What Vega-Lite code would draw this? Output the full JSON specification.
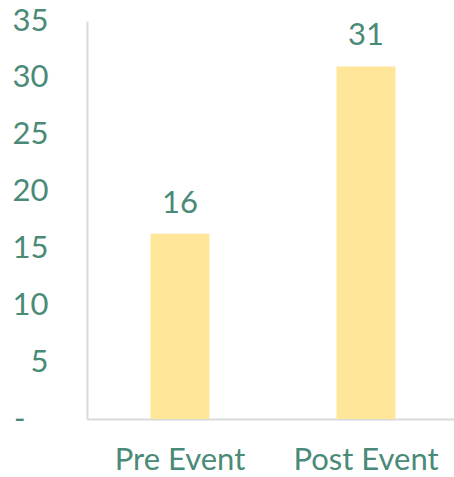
{
  "$schema": "https://vega.github.io/schema/vega-lite/v6.json",
  "width": 372,
  "height": 398,
  "autosize": "none",
  "padding": {"left": 87, "top": 21, "right": 0, "bottom": 58},
  "background": "white",
  "config": {
    "view": {"stroke": null},
    "font": "Lato",
    "axis": {"grid": false, "ticks": false, "domainColor": "#D9D9D9", "domainWidth": 2, "labelColor": "#4A8A78", "labelFont": "Lato", "labelFontSize": 31, "title": null}
  },
  "data": {"values": [
    {"period": "Pre Event", "count": 16.3},
    {"period": "Post Event", "count": 31}
  ]},
  "encoding": {
    "x": {"field": "period", "type": "nominal", "sort": null,
      "scale": {"paddingInner": 0, "paddingOuter": 0},
      "axis": {"labelAngle": 0, "labelPadding": 26}},
    "y": {"field": "count", "type": "quantitative",
      "scale": {"domain": [0, 35], "nice": false},
      "axis": {"values": [0, 5, 10, 15, 20, 25, 30, 35],
        "labelPadding": 39,
        "labelExpr": "datum.value == 0 ? '-\u2800' : datum.label"}}
  },
  "layer": [
    {"mark": {"type": "bar", "color": "#FFE699", "size": 59}},
    {"mark": {"type": "text", "dy": -21, "baseline": "alphabetic", "fontSize": 31, "color": "#4A8A78", "font": "Lato"},
     "encoding": {"text": {"field": "count", "type": "quantitative", "format": ".0f"}}}
  ]
}
